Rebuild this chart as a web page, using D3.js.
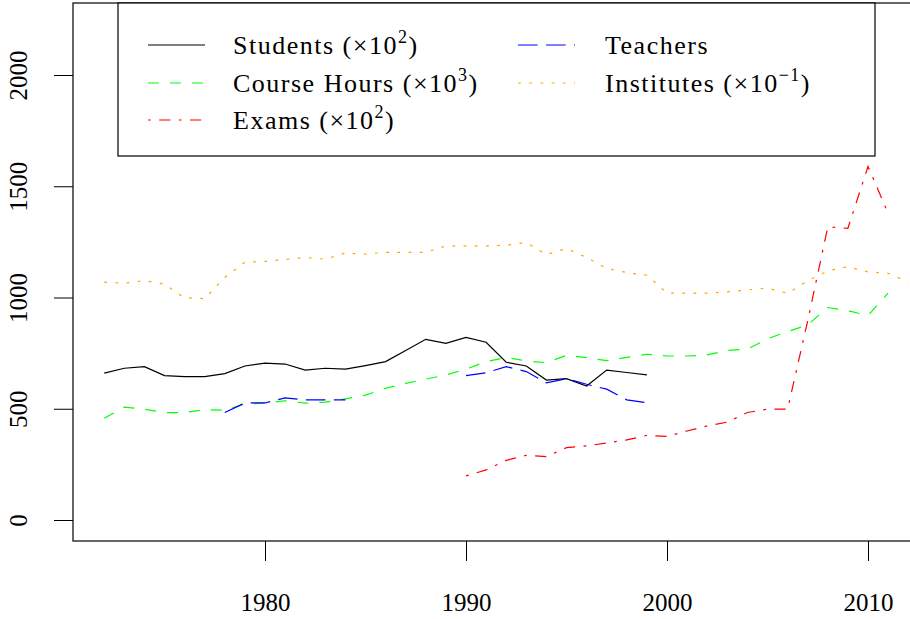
<!DOCTYPE html>
<html>
<head>
<meta charset="utf-8">
<script src="https://cdn.jsdelivr.net/npm/d3@7"></script>
<style>
  body { margin: 0; background: #fff; }
  svg text { font-family: "Liberation Serif", "DejaVu Serif", serif; fill: #000; }
</style>
</head>
<body>
<div id="viz"></div>
<script>
var years = [1972, 1973, 1974, 1975, 1976, 1977, 1978, 1979, 1980, 1981,
             1982, 1983, 1984, 1985, 1986, 1987, 1988, 1989, 1990, 1991,
             1992, 1993, 1994, 1995, 1996, 1997, 1998, 1999, 2000, 2001,
             2002, 2003, 2004, 2005, 2006, 2007, 2008, 2009, 2010, 2011, 2012];

var students = [660, 682, 689, 649, 644, 644, 658, 692, 705, 701,
                674, 682, 678, 694, 712, 762, 812, 794, 821, 799,
                709, 692, 629, 635, 602, 674, 663, 652, null, null,
                null, null, null, null, null, null, null, null, null, null, null];

var courseHours = [457, 507, 498, 483, 483, 496, 493, 522, 525, 536,
                   525, 530, 544, 561, 592, 614, 633, 652, 678, 712,
                   730, 715, 707, 740, 730, 716, 731, 745, 737, 737,
                   742, 762, 768, 814, 847, 877, 955, 941, 919, 1020, null];

var exams = [null, null, null, null, null, null, null, null, null, null,
             null, null, null, null, null, null, null, null, 198, 225,
             268, 291, 285, 325, 333, 346, 360, 380, 376, 400,
             423, 440, 483, 498, 498, 895, 1317, 1311, 1589, 1379, null];

var teachers = [null, null, null, null, null, null, 483, 526, 526, 549,
                540, 540, 540, null, null, null, null, null, 649, 662,
                689, 667, 616, 635, 610, 588, 540, 527, null, null,
                null, null, null, null, null, null, null, null, null, null, null];

var institutes = [1069, 1064, 1076, 1060, 998, 995, 1090, 1159, 1162, 1171,
                  1180, 1172, 1200, 1195, 1203, 1203, 1203, 1232, 1232, 1232,
                  1235, 1247, 1193, 1220, 1180, 1130, 1112, 1100, 1020, 1020,
                  1020, 1025, 1034, 1042, 1019, 1075, 1120, 1138, 1115, 1109, 1070];

var xTicks = [1980, 1990, 2000, 2010];
var yTicks = [0, 500, 1000, 1500, 2000];

var series = [
    { name: "Students", exp: "2", values: students, color: "#000000", dash: null, col: 0, row: 0 },
    { name: "Course Hours", exp: "3", values: courseHours, color: "#00ff00", dash: "11,11", col: 0, row: 1 },
    { name: "Exams", exp: "2", values: exams, color: "#ff0000", dash: "2.8,8.4,11.2,8.4", col: 0, row: 2 },
    { name: "Teachers", exp: null, values: teachers, color: "#0000ff", dash: "19.6,8.4", col: 1, row: 0 },
    { name: "Institutes", exp: "\u22121", values: institutes, color: "#ffa500", dash: "2.8,8.4", col: 1, row: 1 }
];

var width = 910, height = 619;
var box = { left: 73, top: 3, right: 950, bottom: 541 };

var svg = d3.select("#viz").append("svg")
    .attr("width", width)
    .attr("height", height);

// 1980 -> 265px, 2010 -> 868px ; 0 -> 520px, 2000 -> 75px
var x = d3.scaleLinear().domain([1980, 2010]).range([265, 868]);
var y = d3.scaleLinear().domain([0, 2000]).range([520, 75]);

svg.append("clipPath").attr("id", "plotclip")
    .append("rect")
    .attr("x", box.left).attr("y", box.top)
    .attr("width", box.right - box.left).attr("height", box.bottom - box.top);

var line = d3.line()
    .defined(function(d) { return d.v != null; })
    .x(function(d) { return x(d.year); })
    .y(function(d) { return y(d.v); });

var plot = svg.append("g").attr("clip-path", "url(#plotclip)");

series.forEach(function(s) {
    var pts = years.map(function(yr, i) { return { year: yr, v: s.values[i] }; });
    plot.append("path")
        .datum(pts)
        .attr("fill", "none")
        .attr("stroke", s.color)
        .attr("stroke-width", 1.2)
        .attr("stroke-dasharray", s.dash)
        .attr("d", line);
});

// plot box
svg.append("rect")
    .attr("x", box.left).attr("y", box.top)
    .attr("width", box.right - box.left).attr("height", box.bottom - box.top)
    .attr("fill", "none")
    .attr("stroke", "#000")
    .attr("stroke-width", 1.2);

// x axis
var xAxis = d3.axisBottom(x)
    .tickValues(xTicks)
    .tickSize(20)
    .tickPadding(32)
    .tickFormat(d3.format("d"));

var xg = svg.append("g")
    .attr("transform", "translate(0," + box.bottom + ")")
    .call(xAxis);
xg.select(".domain").remove();
xg.selectAll("line").attr("stroke", "#000").attr("stroke-width", 1);
xg.selectAll("text")
    .style("font-family", "'Liberation Serif', serif")
    .style("font-size", "25px")
    .attr("fill", "#000");

// y axis
var yAxis = d3.axisLeft(y)
    .tickValues(yTicks)
    .tickSize(19)
    .tickFormat(d3.format("d"));

var yg = svg.append("g")
    .attr("transform", "translate(" + box.left + ",0)")
    .call(yAxis);
yg.select(".domain").remove();
yg.selectAll("line").attr("stroke", "#000").attr("stroke-width", 1);
yg.selectAll("text").remove();
yg.selectAll(".tick").append("text")
    .attr("transform", "translate(-46,0) rotate(-90)")
    .attr("text-anchor", "middle")
    .attr("fill", "#000")
    .style("font-size", "25px")
    .text(function(d) { return d; });

// legend
var legend = svg.append("g");
legend.append("rect")
    .attr("x", 118).attr("y", 3)
    .attr("width", 757).attr("height", 153)
    .attr("fill", "#fff")
    .attr("stroke", "#000")
    .attr("stroke-width", 1.2);

var colX = [148, 518];
var textX = [233, 605];
var rowY = [45, 83, 120];

series.forEach(function(s) {
    var lx = colX[s.col], ly = rowY[s.row];
    legend.append("line")
        .attr("x1", lx).attr("x2", lx + 57)
        .attr("y1", ly).attr("y2", ly)
        .attr("stroke", s.color)
        .attr("stroke-width", 1.2)
        .attr("stroke-dasharray", s.dash);
    var t = legend.append("text")
        .attr("x", textX[s.col])
        .attr("y", ly + 9)
        .style("font-size", "26px")
        .style("letter-spacing", "1.5px");
    t.append("tspan").text(s.name);
    if (s.exp) {
        t.append("tspan").text(" (\u00d710");
        t.append("tspan")
            .attr("dy", -11)
            .style("font-size", "18px")
            .text(s.exp);
        t.append("tspan")
            .attr("dy", 11)
            .text(")");
    }
});
</script>
</body>
</html>
